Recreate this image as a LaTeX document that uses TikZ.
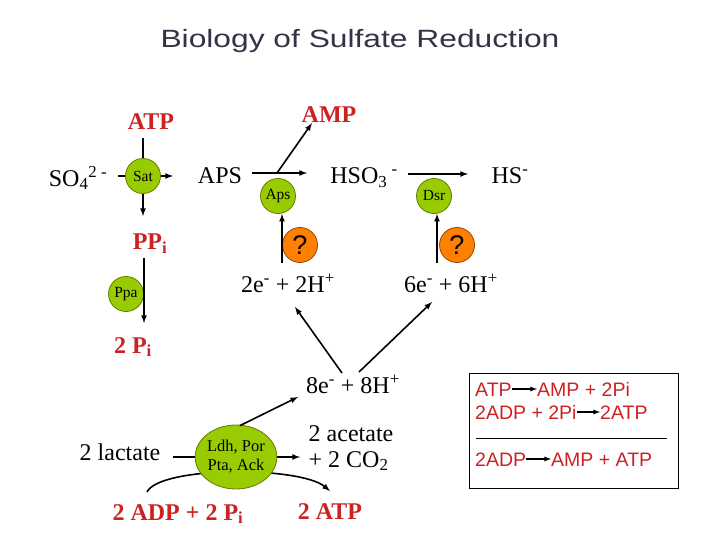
\documentclass[tikz,border=0pt]{standalone}
\usepackage{fontspec}
\setmainfont{Liberation Serif}
\newfontfamily\arial{Liberation Sans}
\usetikzlibrary{arrows,shapes.geometric}
\definecolor{cofred}{RGB}{204,34,34}
\definecolor{enzgreen}{RGB}{153,204,0}
\definecolor{enzedge}{RGB}{95,125,0}
\definecolor{qorange}{RGB}{255,128,0}
\definecolor{qedge}{RGB}{150,70,0}
\definecolor{titleblue}{RGB}{51,51,71}

\begin{document}
\begin{tikzpicture}[x=1pt,y=-1pt,
  lbl/.style={font=\fontsize{24}{26}\selectfont,inner sep=0pt},
  cof/.style={font=\fontsize{24}{26}\selectfont\bfseries,text=cofred,inner sep=0pt},
  enz/.style={circle,draw=enzedge,fill=enzgreen,line width=0.8pt,minimum size=35pt,inner sep=0pt,font=\fontsize{15.5}{16}\selectfont},
  qm/.style={circle,draw=qedge,fill=qorange,line width=0.8pt,minimum size=35pt,inner sep=0pt,font=\arial\fontsize{27}{28}\selectfont},
  boxtxt/.style={font=\arial\fontsize{19.5}{21}\selectfont,text=cofred,inner sep=0pt,text height=14pt,text depth=0pt,anchor=west},
  rxn/.style={line width=1.6pt,-latex},
  boxarrow/.style={line width=1.3pt,-latex}]
\useasboundingbox (0,0) rectangle (720,540);
\node[font=\arial\fontsize{25}{27}\selectfont,text=titleblue] (title) at (360,41) {\scalebox{1.27}[1]{Biology of Sulfate Reduction}};
% substrates and products
\node[cof] (atp) at (151,122) {ATP};
\node[cof] (amp) at (329,115) {AMP};
\node[lbl] (so4) at (78,178) {SO\textsubscript{4}\textsuperscript{2 -}};
\node[lbl] (aps-l) at (220,176) {APS};
\node[lbl] (hso3) at (364,178) {HSO\textsubscript{3}\textsuperscript{ -}};
\node[lbl] (hs) at (510,176) {HS\textsuperscript{-}};
\node[cof] (ppi) at (150,244) {PP\textsubscript{i}};
\node[cof] (pi2) at (133,347) {2 P\textsubscript{i}};
\node[lbl] (e2) at (288,283) {2e\textsuperscript{-} + 2H\textsuperscript{+}};
\node[lbl] (e6) at (451,283) {6e\textsuperscript{-} + 6H\textsuperscript{+}};
\node[lbl] (e8) at (353,384) {8e\textsuperscript{-} + 8H\textsuperscript{+}};
\node[lbl] (lac) at (120,452) {2 lactate};
\node[lbl,align=left] (acet) at (351,448) {2 acetate\\+ 2 CO\textsubscript{2}};
\node[cof] (adp) at (178,514) {2 ADP + 2 P\textsubscript{i}};
\node[cof] (atp2) at (330,512) {2 ATP};
% Sat
\coordinate (s0) at (118,176);
\coordinate (s1) at (173,176);
\coordinate (s2) at (143,138);
\coordinate (s3) at (143,216);
\draw[rxn] (s0) -- (s1);
\draw[rxn] (s2) -- (s3);
\node[enz] (sat) at (143,176) {Sat};
% Aps
\coordinate (a0) at (252,173);
\coordinate (a1) at (307,173);
\coordinate (a2) at (277,173);
\coordinate (a3) at (282,263);
\draw[rxn] (a0) -- (a1);
\draw[rxn] (a2) -- ([xshift=-17pt]amp.south);
\node[enz] (aps) at (278,196) {Aps};
\node[qm] (q1) at (300,245) {?};
\draw[rxn] (a3) -- (a3 |- aps.south);
% Dsr
\coordinate (d0) at (408,174);
\coordinate (d1) at (468,174);
\coordinate (d3) at (437,263);
\draw[rxn] (d0) -- (d1);
\node[enz] (dsr) at (434,196) {Dsr};
\node[qm] (q2) at (457,245) {?};
\draw[rxn] (d3) -- (d3 |- dsr.south);
% Ppa
\coordinate (p0) at (144,258);
\coordinate (p1) at (144,323);
\node[enz] (ppa) at (126,294) {Ppa};
\draw[rxn] (p0) -- (p1);
% electrons
\coordinate (e8l) at (342,373);
\coordinate (e8r) at (359,372);
\draw[rxn] (e8l) -- (295,307);
\draw[rxn] (e8r) -- (432,302);
% Ldh
\coordinate (l0) at (173,457);
\coordinate (l1) at (300,457);
\coordinate (l2) at (147,492);
\coordinate (l3) at (330,491);
\draw[rxn] (l0) -- (l1);
\draw[rxn] (l2) .. controls (160,466) and (300,466) .. (l3);
\node[enz,ellipse,minimum width=73pt,minimum height=64pt,font=\fontsize{16.5}{19}\selectfont,align=center] (ldh) at (236,457) {Ldh, Por\\Pta, Ack};
\draw[rxn] (ldh.north) ++(4,1) -- (298,397);
% balance
\draw[line width=0.9pt] (469,373) rectangle (678,488);
\draw[line width=0.7pt] (476,438) -- (667,438);
\node[boxtxt] (b1) at (475,389) {ATP};
\node[boxtxt] (b2) at (537,389) {AMP + 2Pi};
\node[boxtxt] (b3) at (475,412) {2ADP + 2Pi};
\node[boxtxt] (b4) at (600,412) {2ATP};
\node[boxtxt] (b5) at (475,459) {2ADP};
\node[boxtxt] (b6) at (551,459) {AMP + ATP};
\foreach \u/\v in {b1/b2,b3/b4,b5/b6}
  \draw[boxarrow] (\u) -- (\v);
\end{tikzpicture}
\end{document}
